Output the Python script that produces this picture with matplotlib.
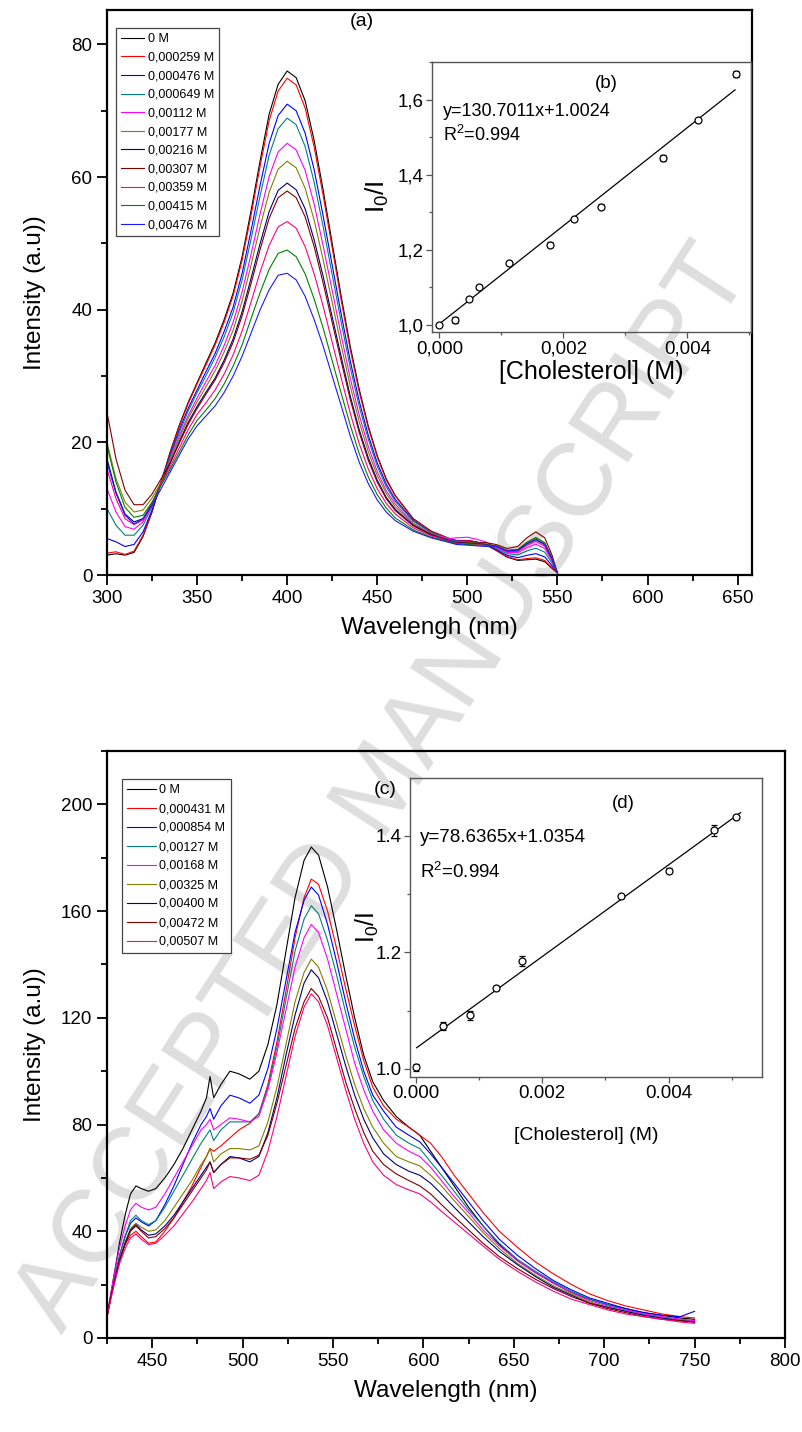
import matplotlib
matplotlib.use('Agg')
import matplotlib.pyplot as plt
from matplotlib.ticker import FixedLocator, FixedFormatter, MultipleLocator

plt.rcParams['font.family'] = ['Liberation Sans', 'DejaVu Sans']
plt.rcParams['mathtext.fontset'] = 'custom'
plt.rcParams['mathtext.rm'] = 'Liberation Sans'
plt.rcParams['mathtext.it'] = 'Liberation Sans:italic'

# ---------------- panel (a): spectra ----------------
wl_a = [300, 305, 310, 315, 320, 325, 330, 335, 340, 345, 350, 355, 360, 365, 370, 375,
        380, 385, 390, 395, 400, 405, 410, 415, 420, 425, 430, 435, 440, 445, 450, 455,
        460, 470, 480, 490, 494, 500, 505, 510, 516, 522, 528, 533, 538, 543, 547, 550]

a_0 = [3.0, 3.2, 3.0, 3.4, 5.8, 9.5, 14.0,
       18.5, 22.5, 26.0, 29.0, 32.0, 35.0, 38.5, 42.5, 48.0, 55.0, 62.5, 69.5, 74.0, 76.0,
       75.0, 71.5, 65.5, 58.0, 50.0, 42.0, 34.5, 28.0, 22.5, 18.0, 14.5, 12.0,
       8.5, 6.6, 5.5, 5.2, 5.2, 5.0, 4.6, 3.7, 2.7, 2.2, 2.3, 2.4, 2.0, 1.0, 0.3]
a_000259 = [3.3, 3.5, 3.1, 3.6, 6.0, 9.6, 14.0,
            18.4, 22.3, 25.8, 28.8, 31.7, 34.7, 38.1, 42.1, 47.5, 54.3, 61.7, 68.5, 73.0, 74.9,
            73.9, 70.4, 64.5, 57.2, 49.3, 41.4, 34.0, 27.6, 22.2, 17.8, 14.3, 11.9,
            8.4, 6.6, 5.5, 5.2, 5.2, 5.0, 4.6, 3.75, 2.77, 2.31, 2.47, 2.6, 2.18, 1.1, 0.3]
a_000476 = [5.5, 5.0, 4.3, 4.6, 6.5, 9.8, 14.0,
            18.0, 21.8, 25.1, 27.9, 30.7, 33.4, 36.7, 40.4, 45.5, 52.0, 58.8, 65.1, 69.3, 71.0,
            70.0, 66.6, 61.1, 54.1, 46.7, 39.3, 32.3, 26.2, 21.1, 16.9, 13.7, 11.4,
            8.2, 6.4, 5.4, 5.1, 5.1, 4.95, 4.65, 3.88, 2.96, 2.62, 2.96, 3.22, 2.72, 1.4, 0.3]
a_000649 = [10.0, 7.5, 6.0, 6.0, 7.5, 10.3, 14.0,
            17.8, 21.4, 24.7, 27.5, 30.1, 32.8, 35.9, 39.6, 44.5, 50.7, 57.2, 63.3, 67.3, 68.9,
            67.9, 64.6, 59.2, 52.5, 45.3, 38.1, 31.3, 25.4, 20.5, 16.4, 13.3, 11.1,
            8.1, 6.4, 5.4, 5.1, 5.0, 4.9, 4.7, 4.06, 3.22, 3.04, 3.62, 4.04, 3.44, 1.8, 0.3]
a_00112 = [13.0, 9.5, 7.3, 6.9, 8.0, 10.6, 14.0,
           17.4, 20.9, 24.0, 26.7, 29.2, 31.6, 34.6, 38.1, 42.7, 48.4, 54.5, 60.1, 63.8, 65.1,
           64.1, 61.0, 55.9, 49.6, 42.9, 36.1, 29.7, 24.1, 19.4, 15.6, 12.7, 10.7,
           7.8, 6.2, 5.5, 5.6, 5.7, 5.4, 5.0, 4.2, 3.42, 3.36, 4.12, 4.66, 3.98, 2.1, 0.3]
a_00177 = [20.0, 14.5, 11.0, 9.5, 9.8, 11.6, 14.0,
           17.2, 20.5, 23.6, 26.1, 28.4, 30.8, 33.6, 36.9, 41.3, 46.8, 52.5, 57.7, 61.2, 62.4,
           61.4, 58.3, 53.5, 47.5, 41.1, 34.6, 28.5, 23.1, 18.6, 15.0, 12.3, 10.3,
           7.7, 6.2, 5.2, 4.9, 4.9, 4.8, 4.7, 4.42, 3.74, 3.88, 4.94, 5.68, 4.88, 2.6, 0.3]
a_00216 = [17.5, 12.5, 9.2, 8.0, 8.5, 10.8, 13.7,
           16.8, 20.0, 23.0, 25.4, 27.6, 29.7, 32.4, 35.6, 39.7, 44.8, 50.0, 54.8, 58.0, 59.1,
           58.1, 55.2, 50.5, 45.0, 38.9, 32.9, 27.0, 21.9, 17.7, 14.3, 11.7, 9.9,
           7.5, 6.1, 5.2, 4.9, 4.8, 4.7, 4.6, 4.35, 3.64, 3.71, 4.68, 5.35, 4.59, 2.44, 0.3]
a_00307 = [24.5, 17.5, 12.8, 10.6, 10.6, 12.2, 14.5,
           16.9, 19.8, 22.7, 25.1, 27.3, 29.4, 32.0, 35.1, 39.1, 44.0, 49.1, 53.8, 56.9, 57.9,
           56.9, 54.0, 49.5, 44.0, 38.1, 32.2, 26.5, 21.5, 17.3, 14.0, 11.5, 9.7,
           7.4, 6.0, 5.1, 4.8, 4.8, 4.8, 4.9, 4.6, 4.0, 4.3, 5.6, 6.5, 5.6, 3.0, 0.3]
a_00359 = [16.0, 11.5, 8.5, 7.6, 8.3, 10.7, 13.8,
           16.3, 19.1, 21.9, 24.2, 26.0, 27.9, 30.3, 33.2, 36.8, 41.2, 45.7, 49.7, 52.5, 53.3,
           52.3, 49.5, 45.4, 40.5, 35.1, 29.7, 24.4, 19.8, 16.0, 13.0, 10.8, 9.2,
           7.1, 5.9, 5.1, 4.8, 4.7, 4.6, 4.5, 4.29, 3.55, 3.57, 4.45, 5.07, 4.34, 2.3, 0.3]
a_00415 = [19.5, 14.0, 10.2, 8.7, 9.0, 11.0, 13.5,
           15.9, 18.5, 21.1, 23.3, 24.9, 26.6, 28.8, 31.5, 34.7, 38.7, 42.6, 46.1, 48.5, 49.0,
           48.0, 45.4, 41.6, 37.2, 32.3, 27.4, 22.6, 18.3, 14.8, 12.1, 10.1, 8.6,
           6.8, 5.7, 5.0, 4.7, 4.6, 4.5, 4.5, 4.4, 3.71, 3.84, 4.87, 5.6, 4.81, 2.56, 0.3]
a_00476 = [17.0, 12.3, 9.0, 7.7, 8.5, 10.5, 13.0,
           15.5, 18.0, 20.5, 22.5, 24.0, 25.5, 27.5, 30.0, 33.0, 36.5, 40.0, 43.0, 45.2, 45.5,
           44.5, 42.0, 38.5, 34.5, 30.0, 25.5, 21.0, 17.0, 13.8, 11.3, 9.5, 8.2,
           6.6, 5.6, 4.9, 4.6, 4.5, 4.4, 4.3, 4.35, 3.64, 3.71, 4.68, 5.35, 4.59, 2.44, 0.3]

series_a = [a_0, a_000259, a_000476, a_000649, a_00112, a_00177, a_00216,
            a_00307, a_00359, a_00415, a_00476]
labels_a = ['0 M', '0,000259 M', '0,000476 M', '0,000649 M', '0,00112 M', '0,00177 M',
            '0,00216 M', '0,00307 M', '0,00359 M', '0,00415 M', '0,00476 M']
colors_a = ['#000000', '#ff0000', '#0000ff', '#008080', '#ff00ff', '#808000',
            '#000080', '#800000', '#ff0080', '#008000', '#1a1aff']

# ---------------- panel (b): Stern-Volmer ----------------
conc_b = [0.0, 0.000258, 0.000473, 0.000645, 0.00112, 0.00178, 0.00217, 0.00260,
          0.00361, 0.00417, 0.00478]
ratio_b = [1.000, 1.012, 1.068, 1.100, 1.164, 1.214, 1.281, 1.315, 1.445, 1.545, 1.668]
err_b = [0.004, 0.008, 0.004, 0.005, 0.005, 0.006, 0.004, 0.007, 0.008, 0.004, 0.008]
slope_b, icpt_b = 130.7011, 1.0024
fitx_b = [0.0, 0.00477]

# ---------------- panel (c): spectra ----------------
wl_c = [425, 427, 429, 432, 435, 438, 441, 444, 448, 452, 457, 462, 467, 472, 477, 480,
        482, 484, 488, 493, 498, 504, 509, 514, 519, 524, 529, 534, 538, 542, 547, 552,
        557, 562, 567, 572, 578, 585, 592, 598, 604, 610, 617, 625, 633, 642, 652, 662,
        672, 682, 692, 702, 712, 722, 732, 742, 750]

c_0 = [8, 16, 24, 36, 46, 54, 57, 56, 55, 56, 60, 65, 71, 78, 85, 90,
       98, 90, 95, 100, 99, 97, 100, 110, 125, 145, 165, 179, 184, 181, 169, 153,
       136, 120, 106, 96, 89, 83, 79, 76, 70, 64, 57, 49, 42, 35, 29, 24.5,
       20.5, 17, 14.5, 12.5, 11, 9.5, 8.5, 7.5, 7]
c_000431 = [8, 15, 22, 30, 35, 38.5, 40, 38, 35.5, 36, 40, 45, 51, 57, 64, 68,
            71, 70, 72, 75, 78, 80.5, 84, 95, 111, 130, 150, 165, 172, 170, 160, 146,
            131, 117, 104, 94, 87, 82, 79, 76, 73, 68, 61, 54, 47, 40, 34, 28.5,
            24, 20, 16.5, 14, 12, 10.5, 9, 8, 7.5]
c_000854 = [8, 15, 22, 31, 38, 43, 45, 43.5, 42, 44, 50, 57, 65, 73, 80, 83,
            86, 82, 87, 91, 90, 88, 91, 101, 116, 134, 152, 164, 169, 166, 155, 141,
            126, 112, 100, 91, 85, 79, 76, 73.5, 69, 64, 58, 51, 44, 37, 31, 26,
            21.5, 18, 15, 13, 11, 9.5, 8.5, 8, 10]
c_00127 = [8, 15, 22, 31, 38, 44, 46, 44, 42.5, 44, 49, 55, 61, 67, 73, 76,
           78, 74, 78, 81, 81, 81, 84, 94, 109, 127, 145, 157, 162, 159, 149, 136,
           122, 109, 98, 89, 82, 76, 73, 71, 66, 61, 55, 48, 42, 35.5, 29.5, 25,
           21, 17.5, 14.5, 12.5, 10.5, 9, 8, 7, 6.5]
c_00168 = [8, 16, 24, 34, 42, 48, 50.5, 49, 48, 49, 54, 60, 66, 72, 78, 80,
           82, 78, 80, 82.5, 82, 81, 83, 93, 107, 123, 139, 150, 155, 152, 142, 129,
           116, 103, 93, 85, 78, 73, 70, 68, 64, 59, 53, 47, 40.5, 34.5, 29, 24.5,
           20.5, 17, 14, 12, 10.5, 9, 8, 7, 6.5]
c_00325 = [8, 15, 21, 29, 36, 41, 43, 41.5, 40, 40.5, 44, 49, 54, 59, 65, 68,
           71, 66, 69, 71, 71, 70.5, 72, 81, 94, 110, 126, 137, 142, 139, 130, 118,
           106, 95, 86, 79, 73, 68, 66, 64.5, 61, 57, 51.5, 45.5, 39.5, 33.5, 28, 23.5,
           19.5, 16.5, 13.5, 11.5, 10, 8.5, 7.5, 6.5, 6]
c_00400 = [8, 15, 21, 29, 35.5, 40.5, 42.5, 40.5, 38.5, 39, 42, 46, 51, 56, 61, 64,
           66, 62, 65, 68, 67.5, 66, 68, 77, 90, 106, 121, 133, 138, 135, 126, 114,
           102, 91, 82, 75, 69, 65, 62.5, 61, 58, 54, 49, 43.5, 38, 32.5, 27.5, 23,
           19, 16, 13, 11.5, 10, 8.5, 7.5, 6.5, 6]
c_00472 = [8, 15, 21, 29, 35, 40, 42, 40, 37.5, 38, 41, 45, 50, 55, 60, 63,
           66, 62, 65, 67.5, 67.5, 67, 68.5, 76, 88, 102, 116, 126, 131, 128, 120, 108,
           96, 86, 77, 70, 65, 61.5, 59, 57, 54, 50, 45.5, 40.5, 35.5, 30.5, 26, 22,
           18.5, 15.5, 13, 11, 9.5, 8, 7, 6.5, 6]
c_00507 = [8, 14, 20, 28, 33.5, 37.5, 39, 37, 35, 35.5, 38.5, 42, 46.5, 51, 56, 59,
           62, 56, 58.5, 60.5, 60, 59, 61, 70, 83, 98, 113, 124, 129, 126, 117, 105,
           93, 82, 73, 66, 61, 57.5, 55.5, 54, 51, 47.5, 43.5, 39, 34.5, 29.5, 25, 21,
           17.5, 14.5, 12.5, 10.5, 9, 8, 7, 6, 5.5]

series_c = [c_0, c_000431, c_000854, c_00127, c_00168, c_00325, c_00400, c_00472, c_00507]
labels_c = ['0 M', '0,000431 M', '0,000854 M', '0,00127 M', '0,00168 M', '0,00325 M',
            '0,00400 M', '0,00472 M', '0,00507 M']
colors_c = ['#000000', '#ff0000', '#0000ff', '#008080', '#ff00ff', '#808000',
            '#000080', '#800000', '#ff0080']

# ---------------- panel (d): Stern-Volmer ----------------
conc_d = [0.0, 0.000431, 0.000854, 0.00127, 0.00168, 0.00325, 0.00400, 0.00472, 0.00507]
ratio_d = [1.003, 1.0735, 1.092, 1.139, 1.185, 1.296, 1.340, 1.409, 1.432]
err_d = [0.006, 0.007, 0.008, 0.003, 0.009, 0.003, 0.004, 0.009, 0.003]
slope_d, icpt_d = 78.6365, 1.0354
fitx_d = [0.00001, 0.00514]

# tick labels
xt_a = [300, 350, 400, 450, 500, 550, 600, 650]
yt_a = [0, 20, 40, 60, 80]
xt_b = [0.0, 0.002, 0.004]
xtl_b = ['0,000', '0,002', '0,004']
yt_b = [1.0, 1.2, 1.4, 1.6]
ytl_b = ['1,0', '1,2', '1,4', '1,6']
xt_c = [450, 500, 550, 600, 650, 700, 750, 800]
yt_c = [0, 40, 80, 120, 160, 200]
xt_d = [0.0, 0.002, 0.004]
xtl_d = ['0.000', '0.002', '0.004']
yt_d = [1.0, 1.2, 1.4]
ytl_d = ['1.0', '1.2', '1.4']

# ---------------- figure ----------------
W, H = 803, 1432
fig = plt.figure(figsize=(W / 100, H / 100), dpi=100)


def add_ax(l, t, r, b):
    ax = fig.add_axes([l / W, 1 - b / H, (r - l) / W, (b - t) / H])
    ax.set_facecolor('none')
    return ax


def style_main(ax):
    for s in ax.spines.values():
        s.set_linewidth(1.6)
    ax.tick_params(which='both', direction='out', top=False, right=False,
                   labelsize=13.5, width=1.3)
    ax.tick_params(which='major', length=7)
    ax.tick_params(which='minor', length=4)


def style_inset(ax):
    for s in ax.spines.values():
        s.set_linewidth(1.0)
        s.set_color('#555555')
    ax.tick_params(which='both', direction='out', top=False, right=False,
                   labelsize=13.5, width=0.9, color='#555555', labelcolor='black')
    ax.tick_params(which='major', length=4, pad=2)
    ax.tick_params(which='minor', length=2.5)


# watermark
fig.text(385 / W, 1 - 790 / H, 'ACCEPTED MANUSCRIPT', rotation=57, fontsize=74,
         color='#dedede', ha='center', va='center', zorder=-10)

# ---- top main (a)
ax1 = add_ax(107, 10, 752, 575)
for y, lab, col in zip(series_a, labels_a, colors_a):
    ax1.plot(wl_a, y, color=col, lw=0.8, label=lab)
ax1.set_xlim(300, 658)
ax1.set_ylim(0, 85.2)
ax1.xaxis.set_major_locator(FixedLocator(xt_a))
ax1.xaxis.set_minor_locator(MultipleLocator(25))
ax1.yaxis.set_major_locator(FixedLocator(yt_a))
ax1.yaxis.set_minor_locator(MultipleLocator(10))
style_main(ax1)
ax1.set_xlabel('Wavelengh (nm)', fontsize=17.5)
ax1.set_ylabel('Intensity (a.u))', fontsize=17.5)
ax1.xaxis.set_label_coords(0.5, -0.094)
ax1.xaxis.label.set_va('center')
ax1.yaxis.set_label_coords(-0.112, 0.5)
ax1.yaxis.label.set_va('center')
leg = ax1.legend(loc='upper left', bbox_to_anchor=((116 - 107) / 645, (575 - 28) / 565),
                 borderaxespad=0, fontsize=9, frameon=True, fancybox=False,
                 edgecolor='#444444', framealpha=1, handlelength=1.85,
                 handletextpad=0.3, labelspacing=0.53, borderpad=0.4)
leg.get_frame().set_linewidth(0.9)
fig.text(362 / W, 1 - 21 / H, '(a)', fontsize=14, ha='center', va='center')

# ---- inset (b)
axb = add_ax(432, 62, 751, 332)
axb.errorbar(conc_b, ratio_b, yerr=err_b, fmt='o', mfc='white', mec='black', mew=0.9,
             ms=5, ecolor='black', elinewidth=0.8, capsize=2, capthick=0.8, zorder=3)
axb.plot(fitx_b, [slope_b * x + icpt_b for x in fitx_b], color='black', lw=0.9)
axb.set_xlim(-0.000118, 0.005027)
axb.set_ylim(0.981, 1.70)
axb.xaxis.set_major_locator(FixedLocator(xt_b))
axb.xaxis.set_major_formatter(FixedFormatter(xtl_b))
axb.xaxis.set_minor_locator(MultipleLocator(0.001))
axb.yaxis.set_major_locator(FixedLocator(yt_b))
axb.yaxis.set_major_formatter(FixedFormatter(ytl_b))
axb.yaxis.set_minor_locator(MultipleLocator(0.1))
style_inset(axb)
axb.set_xlabel('[Cholesterol] (M)', fontsize=18)
axb.set_ylabel(r'I$_\mathregular{0}$/I', fontsize=19)
axb.xaxis.set_label_coords(0.5, -0.148)
axb.xaxis.label.set_va('center')
axb.yaxis.set_label_coords(-0.172, 0.5)
axb.yaxis.label.set_va('center')
axb.text(0.0000645, 1.567, 'y=130.7011x+1.0024', fontsize=13, ha='left', va='center')
axb.text(0.0000645, 1.505, r'R$^\mathregular{2}$=0.994', fontsize=13, ha='left', va='center')
axb.text(0.0027, 1.644, '(b)', fontsize=13.5, ha='center', va='center')

# ---- bottom main (c)
ax2 = add_ax(107, 751, 785, 1338)
for y, lab, col in zip(series_c, labels_c, colors_c):
    ax2.plot(wl_c, y, color=col, lw=0.8, label=lab)
ax2.set_xlim(425, 800)
ax2.set_ylim(0, 220)
ax2.xaxis.set_major_locator(FixedLocator(xt_c))
ax2.xaxis.set_minor_locator(MultipleLocator(25))
ax2.yaxis.set_major_locator(FixedLocator(yt_c))
ax2.yaxis.set_minor_locator(MultipleLocator(20))
style_main(ax2)
ax2.set_xlabel('Wavelength (nm)', fontsize=17.5)
ax2.set_ylabel('Intensity (a.u))', fontsize=17.5)
ax2.xaxis.set_label_coords(0.5, -0.090)
ax2.xaxis.label.set_va('center')
ax2.yaxis.set_label_coords(-72 / 678, 0.5)
ax2.yaxis.label.set_va('center')
leg2 = ax2.legend(loc='upper left', bbox_to_anchor=((122 - 107) / 678, (1338 - 779) / 587),
                  borderaxespad=0, fontsize=9, frameon=True, fancybox=False,
                  edgecolor='#444444', framealpha=1, handlelength=2.3,
                  handletextpad=0.3, labelspacing=0.56, borderpad=0.4)
leg2.get_frame().set_linewidth(0.9)
fig.text(385 / W, 1 - 790 / H, '(c)', fontsize=14, ha='center', va='center')

# ---- inset (d)
axd = add_ax(410, 778, 762, 1077)
axd.errorbar(conc_d, ratio_d, yerr=err_d, fmt='o', mfc='white', mec='black', mew=0.9,
             ms=5, ecolor='black', elinewidth=0.8, capsize=2, capthick=0.8, zorder=3)
axd.plot(fitx_d, [slope_d * x + icpt_d for x in fitx_d], color='black', lw=0.9)
axd.set_xlim(-0.000095, 0.00548)
axd.set_ylim(0.986, 1.499)
axd.xaxis.set_major_locator(FixedLocator(xt_d))
axd.xaxis.set_major_formatter(FixedFormatter(xtl_d))
axd.xaxis.set_minor_locator(MultipleLocator(0.001))
axd.yaxis.set_major_locator(FixedLocator(yt_d))
axd.yaxis.set_major_formatter(FixedFormatter(ytl_d))
axd.yaxis.set_minor_locator(MultipleLocator(0.1))
style_inset(axd)
axd.set_xlabel('[Cholesterol] (M)', fontsize=14)
axd.set_ylabel(r'I$_\mathregular{0}$/I', fontsize=18)
axd.xaxis.set_label_coords(0.5, -0.194)
axd.xaxis.label.set_va('center')
axd.yaxis.set_label_coords((367 - 410) / 352, 0.5)
axd.yaxis.label.set_va('center')
axd.text(0.0000633, 1.397, 'y=78.6365x+1.0354', fontsize=13.5, ha='left', va='center')
axd.text(0.0000633, 1.338, r'R$^\mathregular{2}$=0.994', fontsize=13.5, ha='left', va='center')
axd.text(0.00329, 1.456, '(d)', fontsize=13.5, ha='center', va='center')

fig.savefig('out.png', dpi=100)
